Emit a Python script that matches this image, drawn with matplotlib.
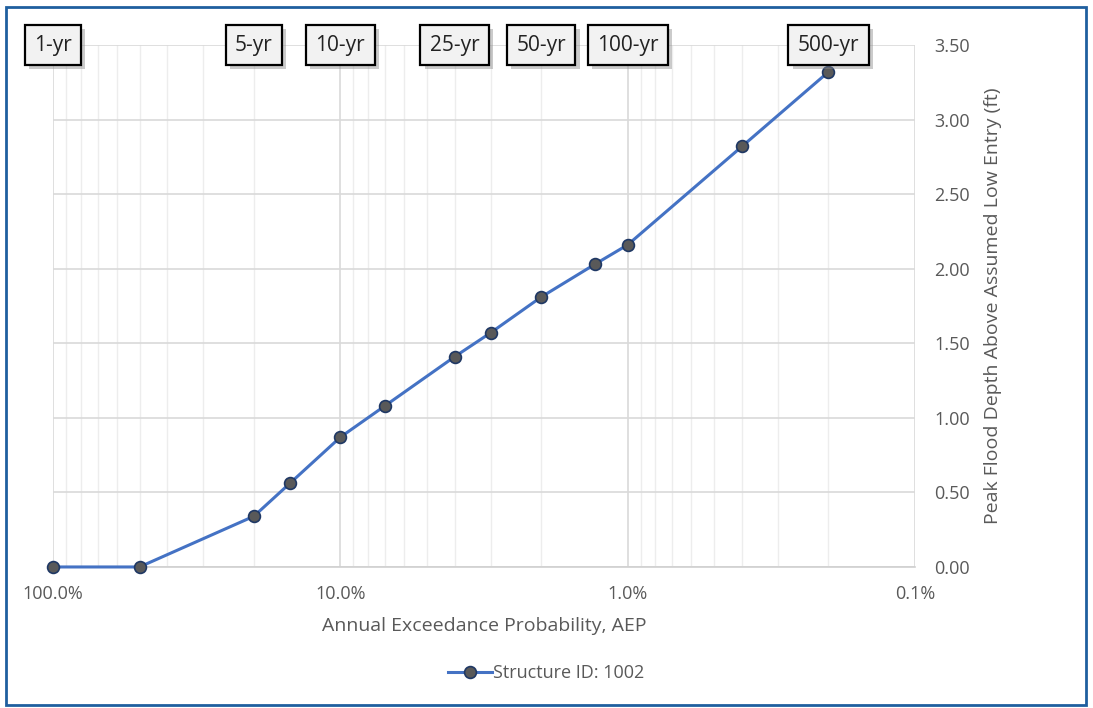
import numpy as np
import matplotlib as mpl
mpl.use('Agg')
import matplotlib.pyplot as plt
import matplotlib.patheffects as pe
from matplotlib.ticker import FuncFormatter, LogLocator, NullFormatter

# data
aep   = [1.0, 0.5, 0.2, 0.15, 0.10, 0.07, 0.04, 0.03, 0.02, 0.013, 0.01, 0.004, 0.002]
depth = [0.0, 0.0, 0.34, 0.56, 0.87, 1.08, 1.41, 1.57, 1.81, 2.03, 2.16, 2.82, 3.32]

event_names = ['1-yr', '5-yr', '10-yr', '25-yr', '50-yr', '100-yr', '500-yr']
event_aep   = [1.0, 0.2, 0.1, 0.04, 0.02, 0.01, 0.002]

plt.rcParams['font.family'] = ['Open Sans', 'DejaVu Sans']

fig = plt.figure(figsize=(10.93, 7.08), dpi=100)
ax = fig.add_axes([0.0485, 0.1992, 0.7886, 0.7372])

ax.plot(aep, depth, color='#4472C4', lw=2.2, marker='o', ms=8.5,
        mfc='#595959', mec='#1F3864', mew=1.2, label='Structure ID: 1002',
        zorder=5, clip_on=False)

ax.set_xscale('log')
ax.set_xlim(1.0, 0.001)
ax.set_ylim(0, 3.5)
ax.set_yticks(np.arange(0, 3.51, 0.5))
ax.yaxis.set_major_formatter(FuncFormatter(lambda v, p: '%.2f' % v))
ax.xaxis.set_major_locator(LogLocator(base=10, numticks=10))
ax.xaxis.set_minor_locator(LogLocator(base=10, subs=np.arange(2, 10), numticks=50))
ax.xaxis.set_major_formatter(FuncFormatter(lambda v, p: '%.1f%%' % (v * 100)))
ax.xaxis.set_minor_formatter(NullFormatter())

ax.yaxis.tick_right()
ax.yaxis.set_label_position('right')
ax.tick_params(axis='both', which='both', length=0, colors='#595959', labelsize=13)
ax.tick_params(axis='x', pad=13)
ax.tick_params(axis='y', pad=14)

ax.grid(True, which='major', axis='both', color='#D9D9D9', lw=1.2)
ax.grid(True, which='minor', axis='x', color='#EDEDED', lw=1.0)
ax.set_axisbelow(True)
for s in ['top', 'right', 'left']:
    ax.spines[s].set_visible(False)
ax.spines['bottom'].set_color('#D0D0D0')
ax.spines['bottom'].set_linewidth(1.2)

ax.set_xlabel('Annual Exceedance Probability, AEP', color='#595959', fontsize=14, labelpad=10)
ax.set_ylabel('Peak Flood Depth Above Assumed Low Entry (ft)', color='#595959', fontsize=14, labelpad=10)

# return period call-outs along the top
for name, x in zip(event_names, event_aep):
    t = ax.text(x, 3.5, name, ha='center', va='center', fontsize=15, color='#222222',
                zorder=10,
                bbox=dict(boxstyle='square,pad=0.45', fc='#F2F2F2', ec='black', lw=1.6))
    t.get_bbox_patch().set_path_effects([
        pe.SimplePatchShadow(offset=(3, -3), shadow_rgbFace='#8C8C8C', alpha=0.45),
        pe.Normal()])

leg = fig.legend(loc='center', bbox_to_anchor=(0.5, 1 - 673 / 708), frameon=False,
                 fontsize=13, handlelength=2.4, handletextpad=0.1)
for txt in leg.get_texts():
    txt.set_color('#595959')

# outer chart border
fig.patches.append(plt.Rectangle((6 / 1093, 3 / 708), 1080 / 1093, 698 / 708,
                                 transform=fig.transFigure, fill=False,
                                 ec='#1F5F9F', lw=2.0))

fig.savefig('out.png', dpi=100)
